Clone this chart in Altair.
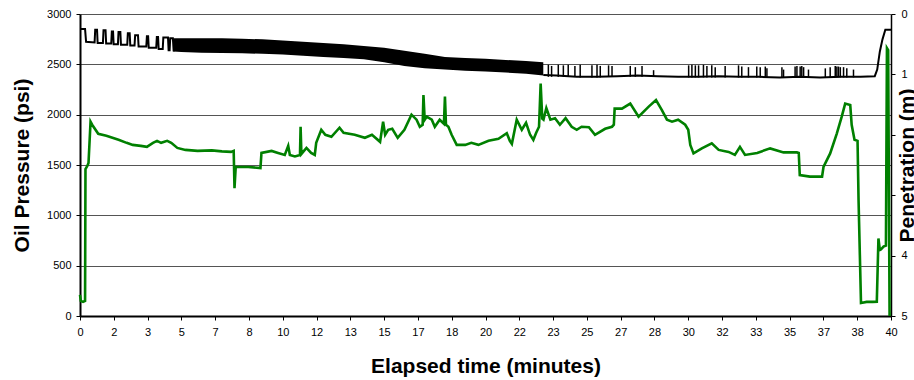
import altair as alt
import pandas as pd

FONT = "Liberation Sans"

# ---------------- Oil pressure (psi), green trace ----------------
oil_t = [0.00, 0.04, 0.15, 0.25, 0.27, 0.36, 0.42, 0.52, 0.60, 0.90, 1.30, 1.90, 2.30, 2.60,
         3.00, 3.30, 3.60, 3.80, 4.00, 4.30, 4.50, 4.80, 5.20, 5.80, 6.50, 7.00, 7.45, 7.58,
         7.62, 7.68, 8.30, 8.90, 8.95, 9.45, 9.77, 10.10, 10.27, 10.35, 10.60, 10.85, 10.88,
         10.92, 11.17, 11.40, 11.58, 11.65, 11.90, 12.10, 12.40, 12.80, 13.00, 13.55, 14.05,
         14.40, 14.80, 14.95, 15.05, 15.20, 15.40, 15.67, 16.00, 16.35, 16.60, 16.76, 16.90,
         16.94, 17.00, 17.10, 17.35, 17.50, 17.74, 17.95, 18.00, 18.05, 18.17, 18.33, 18.58,
         19.00, 19.30, 19.65, 20.15, 20.64, 21.05, 21.20, 21.30, 21.54, 21.79, 22.00, 22.20,
         22.36, 22.50, 22.64, 22.72, 22.80, 22.86, 23.00, 23.20, 23.43, 23.67, 23.95, 24.25,
         24.50, 24.74, 25.10, 25.40, 25.90, 26.24, 26.33, 26.37, 26.73, 27.14, 27.55, 28.05,
         28.41, 28.70, 28.95, 29.20, 29.50, 29.85, 30.00, 30.10, 30.26, 30.67, 31.16, 31.50,
         31.99, 32.30, 32.55, 32.80, 33.40, 34.04, 34.70, 35.36, 35.45, 35.50, 36.00, 36.60,
         36.67, 37.00, 37.33, 37.57, 37.74, 37.99, 38.06, 38.20, 38.35, 38.40, 38.52, 38.80,
         39.10, 39.30, 39.38, 39.45, 39.50, 39.63, 39.75, 39.80, 39.86, 39.93]
oil_psi = [210, 150, 140, 150, 1460, 1490, 1520, 1930, 1900, 1810, 1790, 1750, 1720, 1700,
           1690, 1680, 1720, 1740, 1720, 1740, 1720, 1670, 1650, 1640, 1645, 1635, 1630, 1640,
           1270, 1480, 1480, 1470, 1620, 1640, 1620, 1600, 1690, 1600, 1585, 1600, 1880,
           1610, 1670, 1620, 1600, 1720, 1850, 1800, 1780, 1870, 1820, 1800, 1770,
           1800, 1730, 1930, 1800, 1850, 1860, 1770, 1850, 2000, 1950, 1880, 1900,
           2195, 1950, 1980, 1950, 1880, 1950, 1910, 2180, 1900, 1880, 1800, 1700,
           1700, 1720, 1700, 1740, 1760, 1815, 1740, 1710, 1950, 1850, 1920, 1800,
           1750, 1820, 1880, 2310, 1960, 1950, 2065, 1950, 1965, 1900, 1965, 1880,
           1850, 1880, 1875, 1800, 1860, 1880, 1900, 2060, 2060, 2110, 1980, 2080,
           2145, 2045, 1950, 1930, 1950, 1900, 1850, 1700, 1615, 1665, 1715, 1650,
           1630, 1600, 1680, 1600, 1620, 1665, 1625, 1625, 1620, 1400, 1385, 1385,
           1480, 1615, 1815, 1980, 2110, 2095, 1900, 1750, 1740, 1150, 130, 140,
           140, 142, 770, 655, 660, 690, 700, 2660, 2640, 0]

# ---------------- Penetration (m), black trace ----------------
# early part: discrete spikes above a slowly sinking baseline
pen_early_t = [0.03, 0.25, 0.30, 0.72, 0.75, 0.84, 0.87, 1.13, 1.16, 1.26, 1.29, 1.54, 1.57,
               1.63, 1.66, 1.87, 1.90, 1.99, 2.02, 2.33, 2.36, 2.45, 2.48, 2.69, 2.72, 2.86,
               2.89, 3.27, 3.30, 3.36, 3.39, 3.76, 3.79, 3.85, 3.88, 4.08, 4.11, 4.34, 4.37,
               4.42, 4.45, 4.58, 4.62]
pen_early_m = [0.25, 0.25, 0.46, 0.47, 0.26, 0.26, 0.48, 0.48, 0.27, 0.27, 0.49, 0.49, 0.29,
               0.29, 0.50, 0.50, 0.30, 0.30, 0.51, 0.51, 0.32, 0.32, 0.52, 0.52, 0.35, 0.35,
               0.54, 0.54, 0.37, 0.37, 0.56, 0.56, 0.38, 0.38, 0.58, 0.58, 0.39, 0.39, 0.60,
               0.60, 0.40, 0.40, 0.62]

# dense oscillation band: upper and lower envelopes
band_t = [4.60, 5, 6, 7, 8, 9, 10, 11, 12, 13, 14, 15, 16, 17, 18, 19, 20, 21, 22, 22.85]
band_top = [0.40, 0.40, 0.40, 0.40, 0.41, 0.42, 0.44, 0.46, 0.48, 0.50, 0.53, 0.56, 0.61,
            0.66, 0.71, 0.73, 0.74, 0.76, 0.78, 0.80]
band_bot = [0.62, 0.63, 0.64, 0.645, 0.65, 0.66, 0.67, 0.69, 0.71, 0.73, 0.75, 0.80, 0.86,
            0.90, 0.92, 0.94, 0.95, 0.97, 0.99, 1.02]

# late part: flat baseline, then the pull-out at the end
pen_late_t = [22.85, 23.5, 24.5, 25.5, 26.5, 27.5, 28.5, 29.5, 30.5, 31.5, 32.5, 33.5, 34.5,
              35.5, 36.5, 37.5, 38.5, 39.2, 39.32, 39.45, 39.58, 39.72, 40.0]
pen_late_m = [1.01, 1.02, 1.04, 1.04, 1.03, 1.02, 1.03, 1.04, 1.04, 1.03, 1.04, 1.04, 1.05,
              1.04, 1.05, 1.04, 1.04, 1.03, 0.92, 0.62, 0.42, 0.26, 0.26]

# isolated spikes on the late baseline
spike_t = [23.10, 23.26, 23.59, 23.84, 24.08, 24.41, 24.67, 25.25, 25.50, 25.66, 26.07, 26.24,
           27.14, 27.39, 27.72, 28.29, 30.02, 30.18, 30.35, 30.51, 30.75, 30.92, 31.16, 31.33,
           31.82, 32.48, 32.64, 32.97, 33.38, 33.55, 33.80, 33.88, 34.62, 34.70, 35.27, 35.36,
           35.52, 35.60, 35.69, 35.93, 36.76, 37.00, 37.25, 37.33, 37.41, 37.50, 37.66, 37.82,
           38.15]
spike_top = [0.84, 0.86, 0.84, 0.85, 0.84, 0.86, 0.84, 0.85, 0.84, 0.86, 0.85, 0.86,
             0.86, 0.88, 0.86, 0.93, 0.85, 0.84, 0.85, 0.85, 0.84, 0.86, 0.85, 0.88,
             0.86, 0.85, 0.87, 0.88, 0.87, 0.88, 0.87, 0.90, 0.88, 0.92, 0.87, 0.86,
             0.87, 0.86, 0.88, 0.92, 0.90, 0.88, 0.86, 0.87, 0.87, 0.88, 0.88, 0.90,
             0.92]
spike_base = [1.04, 1.04, 1.04, 1.04, 1.04, 1.04, 1.05, 1.05, 1.05, 1.05, 1.04, 1.04,
              1.04, 1.04, 1.04, 1.04, 1.05, 1.05, 1.05, 1.05, 1.05, 1.05, 1.05, 1.05,
              1.05, 1.05, 1.05, 1.05, 1.05, 1.05, 1.05, 1.05, 1.06, 1.06, 1.05, 1.05,
              1.05, 1.05, 1.05, 1.05, 1.06, 1.05, 1.05, 1.05, 1.05, 1.05, 1.05, 1.05,
              1.05]

# ---------------- Axes ----------------
x_tick_values = [0, 5/3, 10/3, 5, 20/3, 25/3, 10, 35/3, 40/3, 15, 50/3, 55/3, 20, 65/3, 70/3,
                 25, 80/3, 85/3, 30, 95/3, 100/3, 35, 110/3, 115/3, 40]
psi_ticks = [0, 500, 1000, 1500, 2000, 2500, 3000]
pen_ticks = [0, 1, 2, 3, 4, 5]

W, H = 811, 302

oil_df = pd.DataFrame({"t": oil_t, "psi": oil_psi})
early_df = pd.DataFrame({"t": pen_early_t, "m": pen_early_m})
band_df = pd.DataFrame({"t": band_t, "top": band_top, "bot": band_bot})
late_df = pd.DataFrame({"t": pen_late_t, "m": pen_late_m})
spike_df = pd.DataFrame({"t": spike_t, "top": spike_top, "base": spike_base})


def x_scale():
    return alt.Scale(domain=[0, 40], nice=False, zero=False)


def pen_scale():
    return alt.Scale(domain=[0, 5], reverse=True, nice=False, zero=False)


def x_axis():
    return alt.Axis(values=x_tick_values, format=".0f", title="Elapsed time (minutes)",
                    orient="bottom",
                    titleFont=FONT, titleFontSize=21, titleFontWeight="bold",
                    titleColor="black", titleY=56, titleBaseline="alphabetic",
                    labelFont=FONT, labelFontSize=11, labelColor="black", labelPadding=6,
                    labelFlush=False, labelOverlap=False,
                    tickSize=4, tickColor="black",
                    domainColor="black", domainWidth=2, grid=False)


def xenc():
    return alt.X("t:Q", scale=x_scale(), axis=x_axis())


psi_axis = alt.Axis(values=psi_ticks, format="d", title="Oil Pressure (psi)", orient="left",
                    titleFont=FONT, titleFontSize=21, titleFontWeight="bold", titleColor="black",
                    titleAngle=270, titleX=-52, titleY=H / 2, titleAlign="center",
                    titleBaseline="alphabetic",
                    labelFont=FONT, labelFontSize=11, labelColor="black", labelPadding=5,
                    tickSize=4, tickColor="black", domainColor="black", domainWidth=2,
                    grid=True, gridColor="#555", gridWidth=1)

pen_axis = alt.Axis(orient="right", values=pen_ticks,
                    labelExpr="(datum.value == 2 || datum.value == 3) ? '' : datum.label",
                    title="Penetration (m)",
                    titleFont=FONT, titleFontSize=21, titleFontWeight="bold", titleColor="black",
                    titleAngle=270, titleX=22, titleY=H / 2, titleAlign="center",
                    titleBaseline="alphabetic",
                    labelFont=FONT, labelFontSize=11, labelColor="black", labelPadding=6,
                    tickSize=4, tickColor="black", domainColor="black", domainWidth=1.5,
                    grid=False)

oil = alt.Chart(oil_df).mark_line(color="#008000", strokeWidth=2.6).encode(
    x=xenc(),
    y=alt.Y("psi:Q", scale=alt.Scale(domain=[0, 3000], nice=False), axis=psi_axis),
)
band = alt.Chart(band_df).mark_area(color="black", opacity=1).encode(
    x=xenc(),
    y=alt.Y("top:Q", scale=pen_scale(), axis=pen_axis),
    y2="bot:Q",
)
early = alt.Chart(early_df).mark_line(color="black", strokeWidth=2).encode(
    x=xenc(),
    y=alt.Y("m:Q", scale=pen_scale(), axis=None),
)
late = alt.Chart(late_df).mark_line(color="black", strokeWidth=2).encode(
    x=xenc(),
    y=alt.Y("m:Q", scale=pen_scale(), axis=None),
)
spikes = alt.Chart(spike_df).mark_rule(color="black", strokeWidth=1.5).encode(
    x=xenc(),
    y=alt.Y("top:Q", scale=pen_scale(), axis=None),
    y2="base:Q",
)

chart = alt.layer(oil, band, early, late, spikes).resolve_scale(y="independent").properties(
    width=W, height=H,
    autosize=alt.AutoSizeParams(type="none"),
    padding={"left": 80, "top": 14, "right": 23, "bottom": 64},
    background="white",
).configure_view(stroke=None)

chart.save("out.html", embed_options={"renderer": "svg", "actions": False})
